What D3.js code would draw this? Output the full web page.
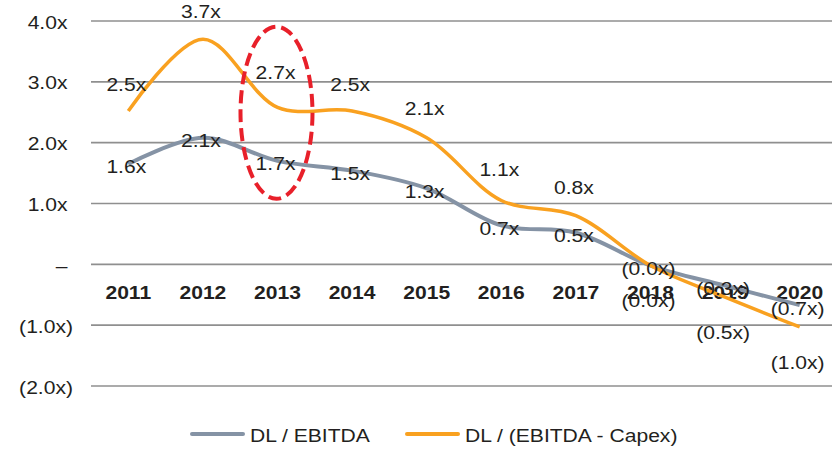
<!DOCTYPE html>
<html><head><meta charset="utf-8">
<script src="https://cdn.jsdelivr.net/npm/d3@7"></script>
<style>body{margin:0;background:#fff}svg{display:block}text{font-family:"Liberation Sans",Arial,sans-serif;fill:#231f20}</style>
</head><body><svg id="c" width="832" height="449"></svg>
<script>
const years = ["2011","2012","2013","2014","2015","2016","2017","2018","2019","2020"];
const dlEbitda = [1.65, 2.08, 1.70, 1.54, 1.25, 0.64, 0.52, -0.02, -0.35, -0.67];
const dlEbitdaLabels = [1.6, 2.1, 1.7, 1.5, 1.3, 0.7, 0.5, -0.0001, -0.3, -0.7];
const dlCapex = [2.52, 3.70, 2.58, 2.52, 2.08, 1.05, 0.80, -0.02, -0.54, -1.03];
const dlCapexLabels = [2.5, 3.7, 2.7, 2.5, 2.1, 1.1, 0.8, -0.0001, -0.5, -1.0];
const yTicks = [4, 3, 2, 1, 0, -1, -2];
const yTickLabels = ["4.0x","3.0x","2.0x","1.0x","\u2013","(1.0x)","(2.0x)"];
const seriesNames = ["DL / EBITDA", "DL / (EBITDA - Capex)"];
const colors = ["#8593a5", "#f9a120"];

const fmt = v => v < 0 ? "(" + Math.abs(v).toFixed(1) + "x)" : v.toFixed(1) + "x";

const svg = d3.select("#c");
const SX = 1.14;
const x = d3.scaleBand().domain(years).range([91, 837]);
const y = d3.scaleLinear().domain([-2, 4]).range([386, 21]);
const cx = d => x(d) + x.bandwidth() / 2;

function txt(g, xx, yy, s, opts = {}) {
  return g.append("text")
    .attr("transform", `translate(${xx},${yy}) scale(${SX},1)`)
    .attr("text-anchor", opts.anchor || "middle")
    .attr("dominant-baseline", "central")
    .style("font-size", (opts.size || 18.5) + "px")
    .style("font-weight", opts.weight || "normal")
    .text(s);
}

// gridlines
svg.append("g").selectAll("line").data(yTicks).join("line")
  .attr("x1", 91).attr("x2", 832)
  .attr("y1", d => y(d)).attr("y2", d => y(d))
  .attr("stroke", "#8f8f8f").attr("stroke-width", 1.6);

// y tick labels
const yl = svg.append("g");
yTicks.forEach((t, i) => {
  const lab = yTickLabels[i];
  const neg = lab.startsWith("(");
  txt(yl, neg ? 73 : 67.5, y(t) + 1, lab, {anchor: "end"});
});

// category labels
const xl = svg.append("g");
years.forEach(yr => txt(xl, cx(yr), 292, yr, {weight: "bold", size: 18.5}));

// lines
const line = d3.line().x((d, i) => cx(years[i])).y(d => y(d)).curve(d3.curveCatmullRom.alpha(0.5));
svg.append("path").datum(dlEbitda).attr("d", line).attr("fill", "none")
  .attr("stroke", colors[0]).attr("stroke-width", 4);
svg.append("path").datum(dlCapex).attr("d", line).attr("fill", "none")
  .attr("stroke", colors[1]).attr("stroke-width", 3.5);

// data labels
const dl = svg.append("g");
dlEbitda.forEach((v, i) => txt(dl, cx(years[i]) - 2, y(v) + 3, fmt(dlEbitdaLabels[i])));
dlCapexLabels.forEach((v, i) => txt(dl, cx(years[i]) - 2, v >= 0 ? y(v) - 28 : y(dlCapex[i]) + 35, fmt(v)));

// highlight ellipse around 2013
svg.append("ellipse")
  .attr("cx", cx("2013") - 1).attr("cy", y(2.5) + 0.5)
  .attr("rx", 36).attr("ry", 86)
  .attr("fill", "none").attr("stroke", "#e8202a").attr("stroke-width", 4)
  .attr("stroke-dasharray", "13,6");

// legend
const lg = svg.append("g");
const legendX = [192, 407];
seriesNames.forEach((n, i) => {
  lg.append("line").attr("x1", legendX[i]).attr("x2", legendX[i] + 51)
    .attr("y1", 434).attr("y2", 434).attr("stroke", colors[i]).attr("stroke-width", 4)
    .attr("stroke-linecap", "round");
  txt(lg, legendX[i] + 58, 435, n, {anchor: "start"});
});
</script></body></html>
